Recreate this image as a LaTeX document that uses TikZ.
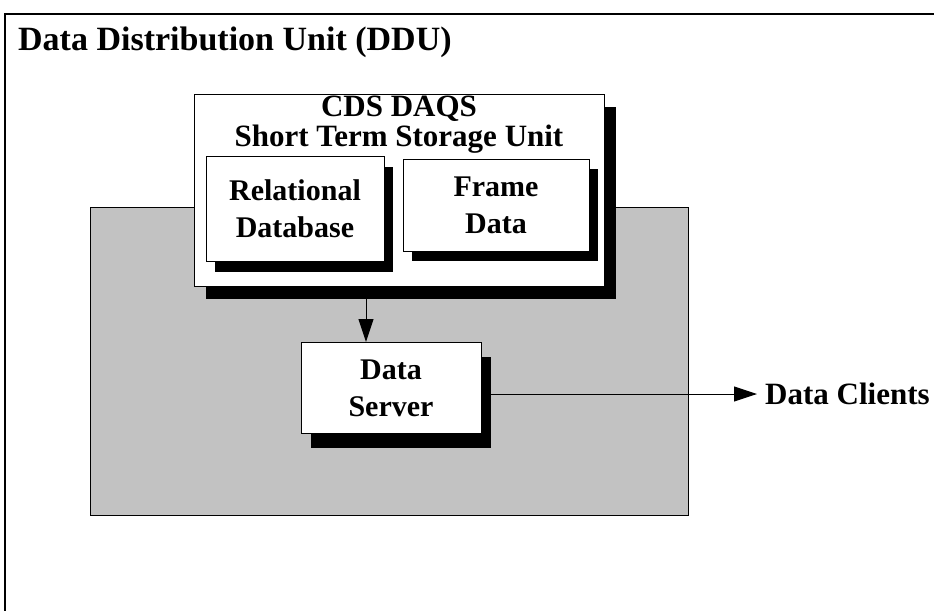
\documentclass[tikz,border=0pt]{standalone}
\usepackage{fontspec}
\setmainfont{Liberation Serif}
\usetikzlibrary{arrows.meta,shadows}

\begin{document}
\begin{tikzpicture}[x=1pt,y=-1pt,>={Triangle[length=23pt,width=15pt]},draw=black!100]
	\def \titlerow{50}
	\def \headrow{125}
	\def \storerow{209}
	\def \serverrow{388}
	\tikzstyle{unit-box}=[rectangle,draw=black!100,fill=white,line width=1pt,inner sep=0pt,align=center,font=\bfseries\fontsize{30}{37}\selectfont]
	\tikzstyle{shade-big}=[drop shadow={shadow xshift=12pt,shadow yshift=-13pt,fill=black,opacity=1}]
	\tikzstyle{shade-small}=[drop shadow={shadow xshift=9pt,shadow yshift=-10pt,fill=black,opacity=1}]
	\tikzstyle{gray-area}=[rectangle,draw=black!100,fill=black!24,line width=0.8pt,inner sep=0pt]
	\tikzstyle{annot}=[inner sep=0pt,align=center,font=\bfseries\fontsize{31}{30}\selectfont]
	\useasboundingbox (0,0) rectangle (934,611);
	\fill[white] (0,0) rectangle (934,611);
	% frame of the unit
	\draw[line width=1.5pt] (934,14) -- (5,14) -- (5,611);
	\node[annot,anchor=base west,font=\bfseries\fontsize{34}{34}\selectfont] (title) at (18,\titlerow) {Data Distribution Unit (DDU)};
	
	% shaded area
	\node[gray-area,minimum width=598pt,minimum height=308pt] (area) at (389,361) {};
	
	% storage unit
	\node[unit-box,shade-big,minimum width=410pt,minimum height=192pt] (stsu) at (399,190) {};
	\node[annot] (stsu-head) at (399,\headrow) {CDS DAQS\\Short Term Storage Unit};
	\node[unit-box,shade-small,minimum width=178pt,minimum height=105pt] (rdb) at (295,\storerow) {Relational\\Database};
	\node[unit-box,shade-small,minimum width=186pt,minimum height=92pt] (fdata) at (496,205) {Frame\\Data};
	
	% server
	\node[unit-box,minimum width=180pt,minimum height=91pt,drop shadow={shadow xshift=10pt,shadow yshift=-14pt,fill=black,opacity=1}] (dserver) at (391,\serverrow) {Data\\Server};
	\node[annot,anchor=west,inner xsep=8pt] (clients) at (757,394) {Data Clients};
	
	\path[->,line width=1pt]
		([xshift=-33pt]stsu.south)	edge	([xshift=-33pt]stsu.south |- dserver.north)
		(dserver.east |- clients.west)	edge	(clients.west);
		
\end{tikzpicture}
\end{document}
